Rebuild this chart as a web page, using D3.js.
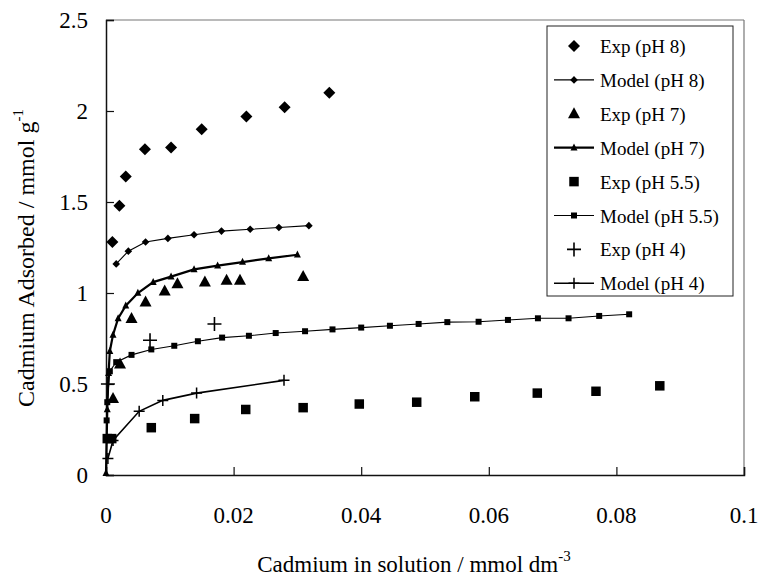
<!DOCTYPE html>
<html>
<head>
<meta charset="utf-8">
<script src="https://cdn.jsdelivr.net/npm/d3@7"></script>
<style>
  body { margin: 0; background: #fff; }
  svg text { font-family: "Liberation Serif", "Times New Roman", Tinos, "DejaVu Serif", serif; fill: #000; }
</style>
</head>
<body>
<svg id="chart" width="759" height="577"></svg>
<script>
// Cadmium adsorption isotherms: experimental points and model curves at four pH values
const xTicks = [0, 0.02, 0.04, 0.06, 0.08, 0.1];
const xTickLabels = ["0", "0.02", "0.04", "0.06", "0.08", "0.1"];
const yTicks = [0, 0.5, 1, 1.5, 2, 2.5];
const yTickLabels = ["0", "0.5", "1", "1.5", "2", "2.5"];

const expPH8X = [0.0010, 0.0021, 0.0031, 0.0061, 0.0102, 0.0150, 0.0220, 0.0280, 0.0350];
const expPH8Y = [1.28, 1.48, 1.64, 1.79, 1.80, 1.90, 1.97, 2.02, 2.10];

const modelPH8X = [0.0016, 0.0035, 0.0062, 0.0097, 0.0138, 0.0181, 0.0226, 0.0271, 0.0318];
const modelPH8Y = [1.16, 1.23, 1.28, 1.30, 1.32, 1.34, 1.35, 1.36, 1.37];

const expPH7X = [0.0011, 0.0022, 0.0040, 0.0062, 0.0092, 0.0112, 0.0155, 0.0189, 0.0210, 0.0309];
const expPH7Y = [0.42, 0.61, 0.86, 0.95, 1.01, 1.05, 1.06, 1.07, 1.07, 1.09];

const modelPH7X = [0, 0.0002, 0.0004, 0.0006, 0.0011, 0.0019, 0.0031, 0.0050, 0.0074, 0.0102, 0.0138, 0.0175, 0.0214, 0.0255, 0.0300];
const modelPH7Y = [0.01, 0.36, 0.56, 0.68, 0.77, 0.86, 0.93, 1.00, 1.06, 1.09, 1.13, 1.15, 1.17, 1.19, 1.21];

const expPH55X = [0.0002, 0.0009, 0.0071, 0.0139, 0.0219, 0.0309, 0.0397, 0.0487, 0.0578, 0.0676, 0.0768, 0.0868];
const expPH55Y = [0.20, 0.20, 0.26, 0.31, 0.36, 0.37, 0.39, 0.40, 0.43, 0.45, 0.46, 0.49];

const modelPH55X = [0.0001, 0.0002, 0.0006, 0.0016, 0.0040, 0.0071, 0.0107, 0.0144, 0.0182, 0.0224, 0.0266, 0.0312, 0.0355, 0.0400, 0.0445, 0.0490, 0.0535, 0.0584, 0.0630, 0.0677, 0.0725, 0.0773, 0.0820];
const modelPH55Y = [0.30, 0.40, 0.57, 0.62, 0.66, 0.69, 0.71, 0.735, 0.755, 0.765, 0.78, 0.79, 0.80, 0.81, 0.82, 0.83, 0.84, 0.842, 0.852, 0.861, 0.861, 0.874, 0.883];

const expPH4X = [0.0003, 0.0069, 0.0170];
const expPH4Y = [0.50, 0.74, 0.83];

const modelPH4X = [0.0003, 0.0011, 0.0052, 0.0089, 0.0142, 0.0279];
const modelPH4Y = [0.09, 0.19, 0.35, 0.41, 0.45, 0.52];

const legendLabels = ["Exp (pH 8)", "Model (pH 8)", "Exp (pH 7)", "Model (pH 7)",
                      "Exp (pH 5.5)", "Model (pH 5.5)", "Exp (pH 4)", "Model (pH 4)"];

const svg = d3.select("#chart");
const plotLeft = 106, plotRight = 744, plotTop = 20, plotBottom = 475;
const serif = "'Liberation Serif', 'Times New Roman', Tinos, 'DejaVu Serif', serif";

const x = d3.scaleLinear().domain([0, 0.1]).range([plotLeft, plotRight]);
const y = d3.scaleLinear().domain([0, 2.5]).range([plotBottom, plotTop]);

// marker shapes centred on the origin
function diamond(r) { return `M0,${-r}L${r},0L0,${r}L${-r},0Z`; }
function triangle(w, h) { return `M0,${-h * 0.6}L${w / 2},${h * 0.4}L${-w / 2},${h * 0.4}Z`; }
function square(s) { return `M${-s / 2},${-s / 2}h${s}v${s}h${-s}Z`; }
function plus(r) { return `M${-r},0H${r}M0,${-r}V${r}`; }

const shapes = {
  expPH8:   { d: diamond(6),       fill: "#000", stroke: "none", sw: 0 },
  modelPH8: { d: diamond(3.8),     fill: "#000", stroke: "none", sw: 0 },
  expPH7:   { d: triangle(12, 11), fill: "#000", stroke: "none", sw: 0 },
  modelPH7: { d: triangle(7, 7),   fill: "#000", stroke: "none", sw: 0 },
  expPH55:  { d: square(9.5),      fill: "#000", stroke: "none", sw: 0 },
  modelPH55:{ d: square(6),        fill: "#000", stroke: "none", sw: 0 },
  expPH4:   { d: plus(7),          fill: "none", stroke: "#000", sw: 1.6 },
  modelPH4: { d: plus(5.5),        fill: "none", stroke: "#000", sw: 1.5 }
};

// plot frame
svg.append("line").attr("x1", plotLeft).attr("x2", plotRight).attr("y1", plotTop).attr("y2", plotTop)
  .attr("stroke", "#777").attr("stroke-width", 1.2);
svg.append("line").attr("x1", plotRight).attr("x2", plotRight).attr("y1", plotTop).attr("y2", plotBottom)
  .attr("stroke", "#777").attr("stroke-width", 1.2);

// axes with inward ticks
const xAxis = d3.axisTop(x).tickValues(xTicks).tickSize(8).tickFormat(() => "");
const gx = svg.append("g").attr("transform", `translate(0,${plotBottom})`).call(xAxis);
const yAxis = d3.axisRight(y).tickValues(yTicks).tickSize(8).tickFormat(() => "");
const gy = svg.append("g").attr("transform", `translate(${plotLeft},0)`).call(yAxis);
[gx, gy].forEach(g => {
  g.select(".domain").attr("stroke", "#111").attr("stroke-width", 1.5);
  g.selectAll(".tick line").attr("stroke", "#111").attr("stroke-width", 1.2);
});

svg.append("g").selectAll("text").data(xTicks).join("text")
  .attr("x", d => x(d)).attr("y", 523)
  .attr("text-anchor", "middle").attr("font-family", serif).attr("font-size", 23)
  .text((d, i) => xTickLabels[i]);

svg.append("g").selectAll("text").data(yTicks).join("text")
  .attr("x", 88).attr("y", d => y(d) + 8)
  .attr("text-anchor", "end").attr("font-family", serif).attr("font-size", 23)
  .text((d, i) => yTickLabels[i]);

// axis titles
const xt = svg.append("text").attr("x", 414).attr("y", 572)
  .attr("text-anchor", "middle").attr("font-family", serif).attr("font-size", 23);
xt.append("tspan").text("Cadmium in solution / mmol dm");
xt.append("tspan").attr("dy", -11).attr("font-size", 15).text("-3");

const yt = svg.append("text").attr("transform", "translate(34,258) rotate(-90)")
  .attr("text-anchor", "middle").attr("font-family", serif).attr("font-size", 24);
yt.append("tspan").text("Cadmium Adsorbed / mmol g");
yt.append("tspan").attr("dy", -11).attr("font-size", 15).text("-1");

// model curves
const line = d3.line().x(d => x(d[0])).y(d => y(d[1]));
const zip = (xs, ys) => xs.map((v, i) => [v, ys[i]]);

const models = [
  { key: "modelPH8",  data: zip(modelPH8X, modelPH8Y),   width: 1.1 },
  { key: "modelPH7",  data: zip(modelPH7X, modelPH7Y),   width: 2.2 },
  { key: "modelPH55", data: zip(modelPH55X, modelPH55Y), width: 1.1 },
  { key: "modelPH4",  data: zip(modelPH4X, modelPH4Y),   width: 1.6 }
];
const exps = [
  { key: "expPH8",  data: zip(expPH8X, expPH8Y) },
  { key: "expPH7",  data: zip(expPH7X, expPH7Y) },
  { key: "expPH55", data: zip(expPH55X, expPH55Y) },
  { key: "expPH4",  data: zip(expPH4X, expPH4Y) }
];

function drawMarkers(g, key, data) {
  const s = shapes[key];
  g.selectAll(null).data(data).join("path")
    .attr("transform", d => `translate(${x(d[0])},${y(d[1])})`)
    .attr("d", s.d).attr("fill", s.fill).attr("stroke", s.stroke).attr("stroke-width", s.sw);
}

models.forEach(m => {
  const g = svg.append("g");
  g.append("path").datum(m.data).attr("d", line)
    .attr("fill", "none").attr("stroke", "#000").attr("stroke-width", m.width);
  drawMarkers(g, m.key, m.data);
});
exps.forEach(e => drawMarkers(svg.append("g"), e.key, e.data));

// legend
const legend = svg.append("g");
legend.append("rect").attr("x", 547).attr("y", 26).attr("width", 186).attr("height", 270)
  .attr("fill", "#fff").attr("stroke", "#222").attr("stroke-width", 1);
const legendKeys = ["expPH8", "modelPH8", "expPH7", "modelPH7", "expPH55", "modelPH55", "expPH4", "modelPH4"];
const legendWidths = { modelPH8: 1.1, modelPH7: 2.2, modelPH55: 1.1, modelPH4: 1.6 };
legendKeys.forEach((k, i) => {
  const cy = 46 + i * 33.9;
  const g = legend.append("g").attr("transform", `translate(0,${cy})`);
  if (legendWidths[k]) {
    g.append("line").attr("x1", 554).attr("x2", 594).attr("y1", 0).attr("y2", 0)
      .attr("stroke", "#000").attr("stroke-width", legendWidths[k]);
  }
  const s = shapes[k];
  g.append("path").attr("transform", "translate(574,0)")
    .attr("d", s.d).attr("fill", s.fill).attr("stroke", s.stroke).attr("stroke-width", s.sw);
  g.append("text").attr("x", 600).attr("y", 7).attr("font-family", serif).attr("font-size", 19)
    .text(legendLabels[i]);
});
</script>
</body>
</html>
